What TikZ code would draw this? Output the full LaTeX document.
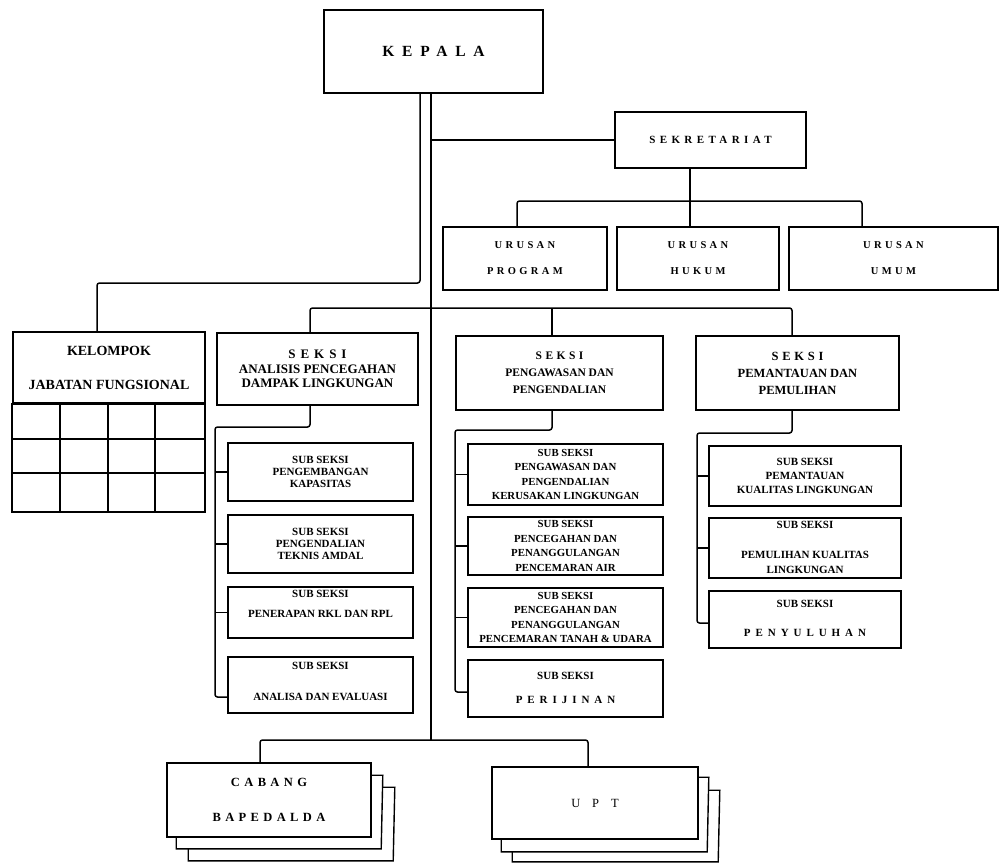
\documentclass[tikz,border=0pt]{standalone}
\usepackage{fontspec}
\setmainfont{Liberation Serif}
\usetikzlibrary{calc}
\newcommand\fsz[2]{\fontsize{#1}{#2}\selectfont}
\newcommand\lsp[1]{\addfontfeature{LetterSpace=#1}}
\begin{document}
\begin{tikzpicture}[x=1pt,y=-1pt,
  box/.style={draw,line width=1.6pt,inner sep=0pt,align=center},
  wire/.style={line width=1.5pt,rounded corners=2.5pt},
  gridline/.style={line width=1.6pt},
  sheet/.style={line width=1.4pt},
  tx/.style={inner sep=0pt,align=center,font=\bfseries\fsz{11}{12}},
  subA/.style={box,minimum width=185,font=\bfseries\fsz{11}{12}},
  subP/.style={box,minimum width=195,font=\bfseries\fsz{10.8}{14.5}},
  subM/.style={box,minimum width=192,font=\bfseries\fsz{11}{14}},
]
\fill[white] (0,0) rectangle (1001,862);
\useasboundingbox (0,0) rectangle (1001,862);

% ---------- top ----------
\node[box,minimum width=219,minimum height=83,font=\bfseries\fsz{15.5}{18}\lsp{50}] (kepala) at (433.5,51.5) {KEPALA};
\node[box,minimum width=191,minimum height=56,font=\bfseries\fsz{11}{12}\lsp{40}] (sekr) at (710.5,140) {SEKRETARIAT};

\node[box,minimum width=164,minimum height=63,font=\bfseries\fsz{10.5}{26}\lsp{32}] (urp) at (525,258.5) {URUSAN\\PROGRAM};
\node[box,minimum width=162,minimum height=63,font=\bfseries\fsz{10.5}{26}\lsp{32}] (urh) at (698,258.5) {URUSAN\\HUKUM};
\node[box,minimum width=209,minimum height=63,font=\bfseries\fsz{10.5}{26}\lsp{32}] (uru) at (893.5,258.5) {URUSAN\\UMUM};

% ---------- kelompok ----------
\node[box,minimum width=192,minimum height=71,font=\bfseries\fsz{14}{34}] (kel) at (109,367.5) {KELOMPOK\\JABATAN FUNGSIONAL};
\coordinate (gse) at (205,512);
\draw[gridline] (kel.south west) rectangle (gse);
\foreach \x in {60,108,155} \draw[gridline] (\x,403) -- (\x,512);
\foreach \y in {439,473} \draw[gridline] (13,\y) -- (205,\y);

% ---------- seksi ----------
\node[box,minimum width=201,minimum height=72,font=\bfseries\fsz{13}{14.5}] (sa) at (317.5,369) {{\lsp{38}SEKSI}\\ANALISIS PENCEGAHAN\\DAMPAK LINGKUNGAN};
\node[box,minimum width=207,minimum height=74,font=\bfseries\fsz{11.5}{17}] (sp) at (559.5,373) {{\lsp{30}SEKSI}\\PENGAWASAN DAN\\PENGENDALIAN};
\node[box,minimum width=203,minimum height=74,font=\bfseries\fsz{12.5}{17}] (sm) at (797.5,373) {{\lsp{30}SEKSI}\\PEMANTAUAN DAN\\PEMULIHAN};

% ---------- sub seksi: analisis ----------
\node[subA,minimum height=58] (a1) at (320.5,472) {SUB SEKSI\\PENGEMBANGAN\\KAPASITAS};
\node[subA,minimum height=58] (a2) at (320.5,544) {SUB SEKSI\\PENGENDALIAN\\TEKNIS AMDAL};
\node[subA,minimum height=51] (a3) at (320.5,612.5) {};
\node[tx] (a3s) at (320.5,594) {SUB SEKSI};
\node[tx] (a3n) at (320.5,614) {PENERAPAN RKL DAN RPL};
\node[subA,minimum height=56] (a4) at (320.5,685) {};
\node[tx] (a4s) at (320.5,666) {SUB SEKSI};
\node[tx] (a4n) at (320.5,697) {ANALISA DAN EVALUASI};

% ---------- sub seksi: pengawasan ----------
\node[subP,minimum height=61] (p1) at (565.5,474.5) {SUB SEKSI\\PENGAWASAN DAN\\PENGENDALIAN\\KERUSAKAN LINGKUNGAN};
\node[subP,minimum height=58] (p2) at (565.5,546) {SUB SEKSI\\PENCEGAHAN DAN\\PENANGGULANGAN\\PENCEMARAN AIR};
\node[subP,minimum height=59] (p3) at (565.5,617.5) {SUB SEKSI\\PENCEGAHAN DAN\\PENANGGULANGAN\\PENCEMARAN TANAH \& UDARA};
\node[subP,minimum height=57] (p4) at (565.5,688.5) {};
\node[tx] (p4s) at (565.5,676) {SUB SEKSI};
\node[tx,font=\bfseries\fsz{11}{12}\lsp{45}] (p4n) at (565.5,700) {PERIJINAN};

% ---------- sub seksi: pemantauan ----------
\node[subM,minimum height=60] (m1) at (805,476) {SUB SEKSI\\PEMANTAUAN\\KUALITAS LINGKUNGAN};
\node[subM,minimum height=60] (m2) at (805,548) {};
\node[tx] (m2s) at (805,525) {SUB SEKSI};
\node[tx,font=\bfseries\fsz{11}{15}] (m2n) at (805,562.5) {PEMULIHAN KUALITAS\\LINGKUNGAN};
\node[subM,minimum height=57] (m3) at (805,619.5) {};
\node[tx] (m3s) at (805,604) {SUB SEKSI};
\node[tx,font=\bfseries\fsz{11}{12}\lsp{45}] (m3n) at (805,633) {PENYULUHAN};

% ---------- bottom ----------
\node[box,minimum width=204,minimum height=74,font=\bfseries\fsz{12.5}{35}\lsp{35}] (cab) at (269,800) {CABANG\\BAPEDALDA};
\node[box,minimum width=206,minimum height=72,font=\fsz{12.5}{14}\lsp{95}] (upt) at (595,803) {UPT};

% stacked sheets behind CABANG
\draw[sheet] ($(cab.north east)+(0,13)$) -- ++(11,0) -- ($(cab.south west)+(215,11)$) -- ($(cab.south west)+(10,11)$) -- ($(cab.south west)+(10,0)$);
\draw[sheet] ($(cab.north east)+(11,25)$) -- ++(12,0) -- ($(cab.south west)+(227,23)$) -- ($(cab.south west)+(22,23)$) -- ($(cab.south west)+(22,11)$);
% stacked sheets behind UPT
\draw[sheet] ($(upt.north east)+(0,11)$) -- ++(10,0) -- ($(upt.south west)+(216,12)$) -- ($(upt.south west)+(10,12)$) -- ($(upt.south west)+(10,0)$);
\draw[sheet] ($(upt.north east)+(10,24)$) -- ++(11,0) -- ($(upt.south west)+(227,22)$) -- ($(upt.south west)+(21,22)$) -- ($(upt.south west)+(21,12)$);

% ---------- connectors ----------
\coordinate (L1) at (420,283);
\coordinate (kd) at (97,283);
\coordinate (M1) at (431,740);
\draw[wire] (kepala.south -| L1) -- (L1) -- (kd) -- (kd |- kel.north);
\draw[wire] (kepala.south -| M1) -- (M1);
\draw[wire] (sekr.west -| M1) -- (sekr.west);

\coordinate (sj) at (690,201);
\coordinate (u1) at (517,201);
\coordinate (u3) at (862,201);
\draw[wire] (sekr.south -| sj) -- (sj |- urh.north);
\draw[wire] (u1 |- urp.north) -- (u1) -- (u3) -- (u3 |- uru.north);

\coordinate (s1) at (310,308);
\coordinate (s2) at (552,308);
\coordinate (s3) at (792,308);
\draw[wire] (s1 |- sa.north) -- (s1) -- (s3) -- (s3 |- sm.north);
\draw[wire] (s2) -- (s2 |- sp.north);

\coordinate (aj) at (310,427);
\coordinate (al) at (215,427);
\coordinate (ab) at (215,697);
\draw[wire] (aj |- sa.south) -- (aj) -- (al) -- (ab) -- (ab -| a4.west);
\foreach \n in {a1,a2,a3} \draw[wire] (al |- \n.west) -- (\n.west);

\coordinate (pj) at (552,430);
\coordinate (pl) at (455,430);
\coordinate (pb) at (455,692);
\draw[wire] (pj |- sp.south) -- (pj) -- (pl) -- (pb) -- (pb -| p4.west);
\foreach \n in {p1,p2,p3} \draw[wire] (pl |- \n.west) -- (\n.west);

\coordinate (mj) at (792,433);
\coordinate (ml) at (697,433);
\coordinate (mb) at (697,623);
\draw[wire] (mj |- sm.south) -- (mj) -- (ml) -- (mb) -- (mb -| m3.west);
\foreach \n in {m1,m2} \draw[wire] (ml |- \n.west) -- (\n.west);

\coordinate (b1) at (260,740);
\coordinate (b2) at (588,740);
\draw[wire] (b1 |- cab.north) -- (b1) -- (b2) -- (b2 |- upt.north);
\end{tikzpicture}
\end{document}
